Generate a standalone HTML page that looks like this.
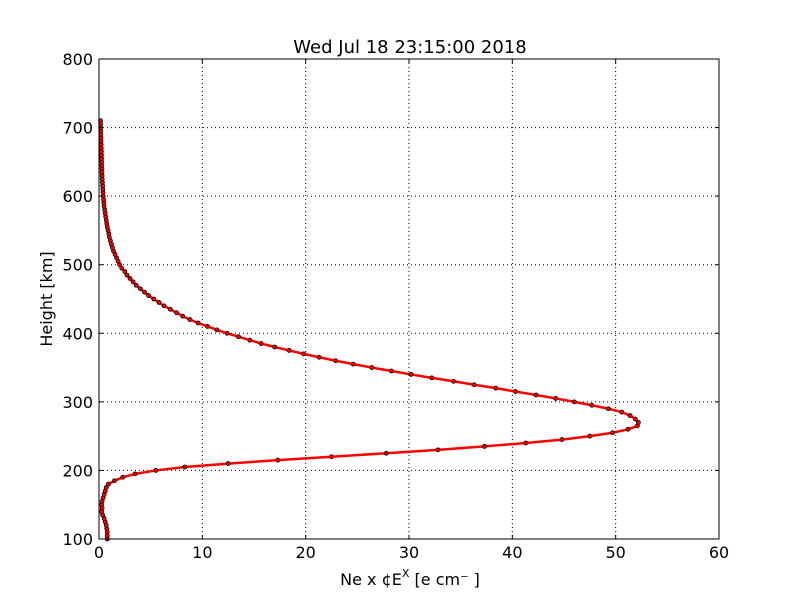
<!DOCTYPE html>
<html><head><meta charset="utf-8"><style>
body{margin:0;background:#fff;}
svg{display:block;font-family:"DejaVu Sans","Liberation Sans",sans-serif;}
</style></head><body>
<svg id="chart" width="800" height="600">
<rect width="800" height="600" fill="#fff"/>
<g id="grid"></g>
<g id="series"></g>
<rect x="99" y="59" width="620" height="480" fill="none" stroke="#000" stroke-width="1"/>
<g id="ticks"></g>
<text x="410" y="53" font-size="18" text-anchor="middle">Wed Jul 18 23:15:00 2018</text>
<text x="410" y="585" font-size="16" text-anchor="middle">Ne x ¢E<tspan dy="-8" font-size="11">X</tspan><tspan dy="8"> [e cm⁻ ]</tspan></text>
<text transform="translate(52,299) rotate(-90)" font-size="16" text-anchor="middle">Height [km]</text>
</svg>
<script>
const xTicks=[0,10,20,30,40,50,60];
const yTicks=[100,200,300,400,500,600,700,800];
const heightStart=100, heightStep=5;
const density=[0.8,0.8,0.8,0.75,0.7,0.6,0.5,0.35,0.25,0.3,0.25,0.3,0.4,0.5,0.6,0.7,0.9,1.5,2.3,3.5,
5.5,8.3,12.5,17.3,22.5,27.8,32.8,37.3,41.3,44.8,47.5,49.7,51.2,52.1,52.2,51.9,51.4,50.6,49.3,47.7,
46,44.2,42.3,40.3,38.4,36.3,34.3,32.2,30.2,28.3,26.4,24.6,22.9,21.3,19.8,18.4,17,15.7,14.6,13.5,
12.4,11.4,10.5,9.6,8.8,8.1,7.5,6.9,6.3,5.8,5.3,4.8,4.4,4.0,3.6,3.3,3.0,2.7,2.5,2.2,
2.0,1.85,1.7,1.55,1.4,1.3,1.2,1.1,1.0,0.95,0.88,0.8,0.75,0.7,0.65,0.6,0.55,0.5,0.47,0.44,
0.41,0.39,0.37,0.35,0.33,0.31,0.3,0.29,0.28,0.27,0.26,0.25,0.24,0.23,0.22,0.21,0.2,0.19,0.18,0.17,0.16,0.16,0.15];
const NS='http://www.w3.org/2000/svg';
const X=v=>99+v*620/60, Y=v=>539-(v-100)*480/700;
function mk(t,a,p){const e=document.createElementNS(NS,t);for(const k in a)e.setAttribute(k,a[k]);p.appendChild(e);return e;}
const g=document.getElementById('grid'),tk=document.getElementById('ticks'),s=document.getElementById('series');
xTicks.forEach(v=>{
 if(v>0&&v<60){const l=mk('line',{x1:X(v),x2:X(v),y1:59,y2:539,stroke:'#000','stroke-dasharray':'1,3'},g);
 
 }
 mk('line',{x1:X(v),x2:X(v),y1:539,y2:535,stroke:'#000'},tk);
 mk('line',{x1:X(v),x2:X(v),y1:59,y2:63,stroke:'#000'},tk);
 const t=mk('text',{x:X(v),y:558,'font-size':16,'text-anchor':'middle'},tk);t.textContent=v;
 
 
});
yTicks.forEach(v=>{
 if(v>100&&v<800){const l=mk('line',{x1:99,x2:719,y1:Y(v),y2:Y(v),stroke:'#000','stroke-dasharray':'1,3'},g);
 
 }
 mk('line',{x1:99,x2:103,y1:Y(v),y2:Y(v),stroke:'#000'},tk);
 mk('line',{x1:719,x2:715,y1:Y(v),y2:Y(v),stroke:'#000'},tk);
 const t=mk('text',{x:93,y:Y(v)+6,'font-size':16,'text-anchor':'end'},tk);t.textContent=v;
 
 
});
const pts=density.map((d,i)=>[X(d),Y(heightStart+i*heightStep)]);
const pl=mk('polyline',{points:pts.map(p=>p.join(',')).join(' '),fill:'none',stroke:'#f00','stroke-width':2.5},s);


pts.forEach(p=>{const c=mk('circle',{cx:p[0],cy:p[1],r:2,fill:'#f00',stroke:'#000','stroke-width':0.8},s);
 
 });
</script>
</body></html>
